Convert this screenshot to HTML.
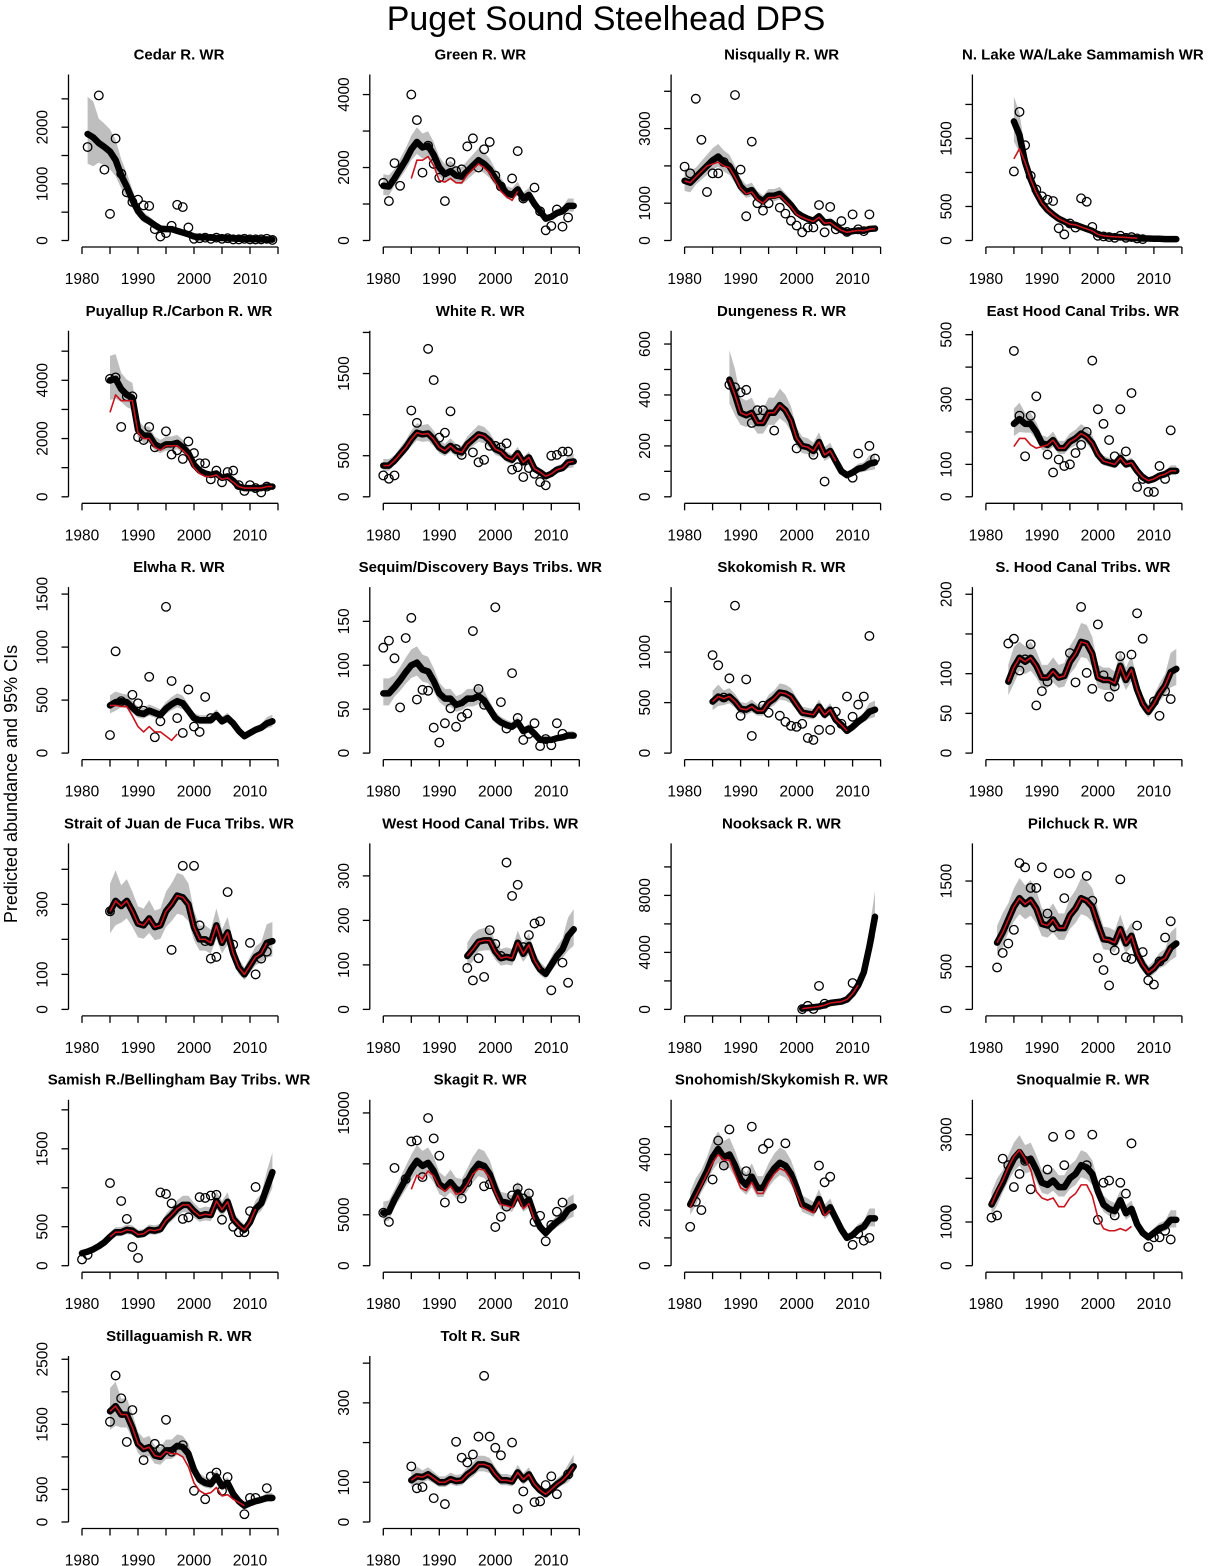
<!DOCTYPE html>
<html><head><meta charset="utf-8"><style>
body{margin:0;background:#fff}
svg{display:block;font-family:"Liberation Sans",Arial,sans-serif}
</style></head><body>
<svg id="chart" width="1212" height="1566" viewBox="0 0 1212 1566" xmlns="http://www.w3.org/2000/svg">
<text x="606" y="30" text-anchor="middle" font-size="34">Puget Sound Steelhead DPS</text>
<text transform="translate(17,784) rotate(-90)" text-anchor="middle" font-size="18">Predicted abundance and 95% CIs</text>
</svg>
<script>
const titles=["Cedar R. WR","Green R. WR","Nisqually R. WR","N. Lake WA/Lake Sammamish WR","Puyallup R./Carbon R. WR","White R. WR","Dungeness R. WR","East Hood Canal Tribs. WR","Elwha R. WR","Sequim/Discovery Bays Tribs. WR","Skokomish R. WR","S. Hood Canal Tribs. WR","Strait of Juan de Fuca Tribs. WR","West Hood Canal Tribs. WR","Nooksack R. WR","Pilchuck R. WR","Samish R./Bellingham Bay Tribs. WR","Skagit R. WR","Snohomish/Skykomish R. WR","Snoqualmie R. WR","Stillaguamish R. WR","Tolt R. SuR"];
const xTicks=[1980,1985,1990,1995,2000,2005,2010,2015];
const xTickLabels=[1980,1990,2000,2010];
const startYears=[1981,1980,1980,1985,1985,1980,1988,1985,1985,1980,1985,1984,1985,1995,2001,1982,1980,1980,1981,1981,1985,1985];
const tickSteps=[500,1000,1000,500,1000,500,100,100,500,50,500,50,100,100,2000,500,500,5000,1000,1000,500,100];
const tickLabels=[[0,1000,2000],[0,2000,4000],[0,1000,3000],[0,500,1500],[0,2000,4000],[0,500,1500],[0,200,400,600],[0,100,300,500],[0,500,1000,1500],[0,50,100,150],[0,500,1000],[0,50,100,200],[0,100,300],[0,100,200,300],[0,4000,8000],[0,500,1500],[0,500,1500],[0,5000,15000],[0,2000,4000],[0,1000,3000],[0,500,1500,2500],[0,100,300]];
const yMaxima=[2930,4550,4450,2440,5700,2020,652,512,1566,189,1644,209,474,373,11650,1940,2130,16300,5970,3800,2550,418];
const ciWidth=[0.25,0.15,0.15,0.15,0.15,0.15,0.18,0.15,0.15,0.18,0.15,0.17,0.2,0.18,0.2,0.18,0.15,0.15,0.15,0.15,0.15,0.15];
const means=[
[1880,1820,1720,1650,1570,1420,1150,950,720,520,400,340,270,210,200,200,170,140,110,70,60,55,50,45,45,40,35,30,30,25,25,20,20,15],
[1500,1480,1700,1950,2200,2500,2700,2550,2600,2350,2000,1820,1900,1780,1750,1900,2050,2200,2100,1950,1700,1500,1300,1250,1400,1150,1250,1000,800,600,650,750,800,950,950],
[1600,1550,1700,1850,2000,2150,2250,2100,2000,1750,1450,1300,1350,1150,1050,1200,1200,1250,1100,950,750,650,580,530,650,480,500,380,280,220,250,270,260,310,320],
[1750,1550,1150,900,700,550,450,380,320,280,240,230,200,170,140,90,70,60,55,50,45,40,35,30,30,25,25,20,20,20],
[4000,4050,3700,3500,3400,2300,2100,2100,1800,1700,1800,1800,1850,1700,1500,1100,900,800,750,800,650,700,550,350,300,300,300,300,350,350],
[380,380,440,520,600,700,780,760,770,700,600,560,620,560,540,640,700,760,740,680,580,550,480,450,530,420,480,340,300,250,280,330,350,420,430],
[460,400,330,320,330,290,290,330,330,360,340,300,230,200,195,180,215,165,180,140,100,85,95,110,115,130,135],
[225,240,225,225,200,165,160,175,150,150,170,180,195,185,165,130,110,105,100,120,100,105,80,60,50,55,65,70,80,80],
[450,480,490,480,430,380,370,400,380,360,420,460,490,470,400,330,310,310,310,360,300,330,280,210,160,190,220,240,280,300],
[68,68,75,83,92,100,103,95,93,82,68,62,62,55,57,62,62,65,60,50,40,35,32,30,35,25,28,22,15,15,15,17,18,20,20],
[510,560,540,560,510,440,430,460,420,420,500,540,600,590,560,480,400,390,380,460,380,430,330,280,220,260,310,350,410,430],
[90,108,120,115,120,110,95,95,103,95,97,115,125,140,138,125,95,92,92,88,110,92,105,80,62,52,62,75,85,102,106],
[280,310,295,310,280,245,240,260,235,240,280,300,325,320,300,235,200,200,190,240,190,220,160,120,100,125,150,160,190,195],
[120,135,152,155,155,130,115,118,115,150,125,145,110,90,80,100,120,135,165,180],
[50,100,150,200,300,450,500,550,700,1100,1700,2600,4400,6500],
[780,900,1050,1200,1300,1230,1280,1180,1000,980,1050,950,950,1100,1180,1300,1270,1200,1000,820,810,780,940,770,860,650,520,430,480,560,600,720,770],
[160,180,210,250,300,370,430,430,460,450,400,410,460,450,470,580,650,730,780,780,700,640,660,650,830,720,820,600,520,460,560,730,800,1000,1200],
[5200,5300,6500,7500,8500,9500,10300,9800,10100,9300,8000,7600,8200,7500,7400,8300,9300,10000,9800,9000,7500,6300,6200,6000,7200,6000,6500,4900,3800,3200,3800,4300,4700,5500,5800],
[2200,2600,3000,3400,3900,4200,3900,4000,3600,3100,2900,3200,2800,2800,3200,3500,3700,3600,3300,2800,2200,2100,2000,2400,1900,2100,1700,1300,1000,1100,1300,1400,1700,1700],
[1400,1650,1900,2200,2450,2600,2400,2450,2200,1900,1850,1950,1800,1800,2000,2100,2300,2250,2100,1700,1400,1300,1250,1500,1200,1300,950,750,650,750,850,900,1050,1050],
[1700,1780,1650,1650,1450,1200,1120,1150,1020,1000,1100,1100,1170,1150,1050,800,650,600,580,700,550,600,430,320,250,290,320,340,370,370],
[105,115,113,120,110,100,100,108,103,105,120,130,145,145,140,120,105,105,102,125,107,120,95,80,70,82,95,105,120,140]
];
const redStart=[null,1985,1980,1985,1985,1980,1988,1985,1985,null,1985,1984,1985,1995,2001,1982,1985,1985,1981,1981,1985,1985];
const redValues=[
null,
[1700,2200,2200,2300,2050,1650,1600,1700,1580,1580,1800,1950,2100,2000,1850,1600,1350,1200,1100,1350],
[1600,1550,1700,1850,2000,2050,2100,2000,1950,1700,1400,1250,1300,1100,1000,1150,1150,1200,1050,900,700,620,560,510,620,460,480,370,270,220,250,270,260,300,320],
[1200,1350,1150,900,700,550,450,380,320,280,240,230,200,170,140,90,70,60,55,50,45,40,35],
[2900,3500,3300,3300,3300,2200,2000,2000,1700,1600,1750,1750,1750,1600,1400,1000,800,700,700,750,600,650,500,350,300,300,300,300,350,350],
[380,380,440,520,600,700,780,760,770,700,600,560,620,560,540,640,700,760,740,680,580,550,480,450,530,420,480,340,300,250,280,330,350,420,430],
[460,400,330,320,330,290,290,330,330,360,340,300,230,200,195,180,215,165,180,140],
[155,180,180,160,150,155,160,175,150,150,170,180,195,185,165,130,110,105,100,120,100,105,80,60,50,55,65,70,80,80],
[450,450,440,440,350,250,200,250,200,200,160,120,180],
null,
[510,560,540,560,510,440,430,460,420,420,500,540,600,590,560,480,400,390,380,460,380,430,330,280,220],
[90,108,120,115,120,110,95,95,103,95,97,115,125,140,138,125,95,92,92,88,110,92,105,80,62,52,62,75,85,102],
[280,310,295,310,280,245,240,260,235,240,280,300,325,320,300,235,200,200,190,240,190,220,160,120,100,125,150,160,190],
[120,135,152,155,155,130,115,118,115,150,125,145,110,90],
[50,100,150,200,300,450,500,550,700,1100,1700],
[780,900,1050,1200,1300,1230,1280,1180,1000,980,1050,950,950,1100,1180,1300,1270,1200,1000,820,810,780,940,770,860,650,520,430,480,560,600,720],
[370,430,430,460,450,400,410,460,450,470,580,650,730,780,780,700,640,660,650,830,720,820,600,520,460,560,730],
[7500,8900,8500,9300,8800,7800,7300,7800,7000,7200,8000,9000,9500,9400,8600,7200,6000,5900,5700,6900,5600,6100,4500],
[2100,2500,2900,3300,3700,4000,3800,3800,3300,2800,2700,3000,2600,2600,3000,3300,3500,3400,3100,2600,2100,2000,1900,2300,1800,2000],
[1400,1700,1950,2250,2500,2650,2450,2200,1700,1550,1500,1550,1350,1350,1550,1650,1850,1850,1600,1100,850,800,800,850,800,900],
[1700,1780,1650,1650,1450,1200,1120,1150,1020,1000,1080,1050,1050,1000,850,600,480,430,450,530,400,420,350,300,250],
[105,115,113,120,110,100,100,108,103,105,120,130,145,145,140,120,105,105,102,125,107,120,95,80,70,82,95,105,120,140]
];
const obs=[
[[1981,1650],[1983,2560],[1984,1250],[1985,470],[1986,1800],[1987,1180],[1988,850],[1989,680],[1990,720],[1991,620],[1992,610],[1993,200],[1994,70],[1995,130],[1996,260],[1997,630],[1998,590],[1999,230],[2000,30],[2001,40],[2002,50],[2003,30],[2004,50],[2005,30],[2006,40],[2007,20],[2008,20],[2009,30],[2010,20],[2011,20],[2012,20],[2013,30],[2014,10]],
[[1980,1580],[1981,1080],[1982,2120],[1983,1500],[1985,4000],[1986,3300],[1987,1860],[1988,2600],[1989,2100],[1990,1720],[1991,1080],[1992,2150],[1993,1900],[1994,1950],[1995,2580],[1996,2800],[1997,2000],[1998,2500],[1999,2700],[2000,1780],[2001,1480],[2003,1700],[2004,2450],[2005,1150],[2007,1450],[2008,800],[2009,280],[2010,400],[2011,850],[2012,380],[2013,630]],
[[1980,1980],[1981,1800],[1982,3800],[1983,2700],[1984,1300],[1985,1800],[1986,1800],[1987,2100],[1989,3900],[1990,1900],[1991,650],[1992,2650],[1993,1000],[1994,800],[1995,1000],[1997,880],[1998,720],[1999,530],[2000,400],[2001,220],[2002,350],[2003,350],[2004,950],[2005,220],[2006,900],[2007,300],[2008,520],[2009,230],[2010,700],[2011,300],[2012,250],[2013,700]],
[[1985,1015],[1986,1890],[1987,1400],[1988,950],[1989,750],[1990,650],[1991,600],[1992,580],[1993,180],[1994,90],[1995,250],[1996,190],[1997,620],[1998,570],[1999,200],[2000,70],[2001,60],[2002,50],[2003,40],[2004,70],[2005,40],[2006,50],[2007,30],[2008,20]],
[[1985,4050],[1986,4100],[1987,2400],[1988,3450],[1989,3450],[1990,2050],[1991,1950],[1992,2400],[1993,1700],[1995,2250],[1996,1450],[1997,1600],[1998,1300],[1999,1900],[2000,1500],[2001,1150],[2002,1150],[2003,600],[2004,900],[2005,500],[2006,850],[2007,900],[2008,400],[2009,200],[2010,400],[2011,300],[2012,150],[2013,350]],
[[1980,260],[1981,220],[1982,260],[1985,1050],[1986,900],[1988,1800],[1989,1420],[1990,720],[1991,780],[1992,1040],[1993,580],[1994,510],[1996,540],[1997,420],[1998,450],[1999,620],[2000,620],[2001,600],[2002,650],[2003,330],[2004,360],[2005,240],[2006,350],[2007,280],[2008,180],[2009,140],[2010,500],[2011,510],[2012,550],[2013,550]],
[[1988,440],[1989,430],[1990,410],[1991,420],[1992,290],[1993,340],[1994,340],[1996,260],[2000,190],[2003,165],[2005,60],[2010,75],[2011,170],[2013,200],[2014,150]],
[[1985,450],[1986,250],[1987,125],[1988,250],[1989,310],[1991,130],[1992,75],[1993,115],[1994,95],[1995,100],[1996,135],[1997,160],[1998,200],[1999,420],[2000,270],[2001,225],[2002,175],[2003,125],[2004,270],[2005,140],[2006,320],[2007,30],[2008,55],[2009,15],[2010,15],[2011,95],[2012,55],[2013,205]],
[[1985,170],[1986,960],[1987,490],[1989,550],[1990,470],[1991,400],[1992,720],[1993,150],[1994,300],[1995,1380],[1996,680],[1997,330],[1998,190],[1999,600],[2000,250],[2001,200],[2002,530],[2003,330]],
[[1980,120],[1981,128],[1982,108],[1983,52],[1984,131],[1985,154],[1986,61],[1987,72],[1988,71],[1989,29],[1990,12],[1991,34],[1992,51],[1993,30],[1994,41],[1995,45],[1996,139],[1997,73],[1998,55],[2000,166],[2001,58],[2002,28],[2003,91],[2004,40],[2005,15],[2006,22],[2007,34],[2008,8],[2009,16],[2010,9],[2011,34],[2012,22]],
[[1985,970],[1986,870],[1987,550],[1988,740],[1989,1460],[1990,370],[1991,730],[1992,170],[1994,470],[1995,400],[1997,370],[1998,310],[1999,270],[2000,260],[2001,290],[2002,150],[2003,130],[2004,230],[2006,230],[2007,410],[2008,290],[2009,560],[2010,360],[2011,480],[2012,560],[2013,1160]],
[[1984,138],[1985,144],[1986,104],[1987,118],[1988,137],[1989,60],[1990,78],[1991,90],[1995,126],[1996,89],[1997,184],[1998,101],[1999,81],[2000,162],[2001,98],[2002,71],[2003,84],[2004,122],[2006,124],[2007,176],[2008,144],[2010,65],[2011,47],[2012,78],[2013,68]],
[[1985,280],[1996,170],[1998,410],[2000,410],[2001,240],[2002,195],[2003,145],[2004,150],[2006,335],[2007,185],[2010,190],[2011,100],[2012,145],[2013,165]],
[[1995,93],[1996,65],[1997,115],[1998,73],[1999,178],[2000,147],[2001,120],[2002,330],[2003,255],[2004,280],[2005,140],[2006,167],[2007,193],[2008,198],[2010,43],[2012,105],[2013,60]],
[[2001,20],[2002,250],[2003,30],[2004,1650],[2005,400],[2010,1850]],
[[1982,490],[1983,660],[1984,770],[1985,930],[1986,1710],[1987,1660],[1988,1420],[1989,1420],[1990,1660],[1991,1120],[1992,960],[1993,1590],[1994,1300],[1995,1590],[1998,1560],[1999,1270],[2000,600],[2001,460],[2002,280],[2003,690],[2004,1520],[2005,610],[2006,590],[2007,980],[2008,670],[2009,340],[2010,290],[2011,560],[2012,840],[2013,1030]],
[[1980,80],[1981,140],[1985,1060],[1987,830],[1988,600],[1989,240],[1990,100],[1994,940],[1995,920],[1996,800],[1998,600],[1999,620],[2001,880],[2002,870],[2003,900],[2004,910],[2005,590],[2007,500],[2008,430],[2009,430],[2010,700],[2011,1010]],
[[1980,5200],[1981,4300],[1982,9600],[1984,8500],[1985,12200],[1986,12300],[1987,8700],[1988,14500],[1989,12500],[1990,10800],[1991,6200],[1994,6600],[1995,8200],[1998,7800],[1999,8000],[2000,3800],[2001,4800],[2002,5800],[2003,6900],[2004,7600],[2005,6600],[2006,7100],[2007,4300],[2008,4900],[2009,2400],[2010,4000],[2011,5300],[2012,6200]],
[[1981,1400],[1982,2300],[1983,2000],[1985,3100],[1986,4500],[1987,3600],[1988,4900],[1991,3400],[1992,5000],[1994,4200],[1995,4400],[1998,4400],[2004,3600],[2005,3000],[2006,3200],[2010,750],[2011,1150],[2012,900],[2013,1000]],
[[1981,1100],[1982,1150],[1983,2450],[1984,2300],[1985,1800],[1986,2100],[1987,2400],[1988,1750],[1991,2200],[1992,2950],[1994,2300],[1995,3000],[1998,2300],[1999,3000],[2000,1050],[2001,1900],[2002,1950],[2003,1150],[2004,1900],[2005,1650],[2006,2800],[2009,430],[2010,650],[2011,650],[2012,800],[2013,600]],
[[1985,1540],[1986,2250],[1987,1900],[1988,1230],[1989,1720],[1991,950],[1993,1200],[1994,1120],[1995,1570],[1996,1080],[1998,1180],[2000,480],[2002,350],[2003,700],[2004,760],[2005,480],[2006,690],[2009,120],[2010,370],[2011,370],[2013,520]],
[[1985,140],[1986,85],[1987,88],[1989,60],[1991,45],[1993,202],[1994,162],[1995,150],[1996,170],[1997,215],[1998,368],[1999,215],[2000,187],[2001,168],[2003,200],[2004,33],[2005,77],[2007,50],[2008,52],[2009,93],[2010,115],[2011,70],[2013,120]]
];
const NS="http://www.w3.org/2000/svg";
const svg=document.getElementById('chart');
function mk(tag,attrs,parent){const e=document.createElementNS(NS,tag);for(const k in attrs)e.setAttribute(k,attrs[k]);parent.appendChild(e);return e;}
titles.forEach((title,i)=>{
  const c=i%4,r=Math.floor(i/4);
  const x0=82+301.3*c, zero=240.5+256.3*r, topPx=zero-166;
  const k=166/yMaxima[i];
  const X=yr=>x0+(yr-1980)*5.6;
  const Y=v=>zero-v*k;
  const g=mk('g',{},svg);
  
  
  const t=mk('text',{x:x0+97,y:zero-181,'text-anchor':'middle','font-size':'15','font-weight':'bold'},g);
  t.textContent=title;
  
  
  const m=means[i],s=startYears[i],w=ciWidth[i];
  let up=[],lo=[];
  m.forEach((v,j)=>{const f=(j<2||j>m.length-3)?1.4:1;up.push([X(s+j),Y(v*(1+w*f))]);lo.push([X(s+j),Y(v*(1-w*0.8*f))]);});
  const band=mk('polygon',{points:up.concat(lo.reverse()).map(p=>p.join(',')).join(' '),fill:'#bebebe',stroke:'none'},g);
  
  
  obs[i].forEach(p=>{
    const ci=mk('circle',{cx:X(p[0]),cy:Y(p[1]),r:4.3,fill:'none',stroke:'#000','stroke-width':1.3},g);
    
    
  });
  const ml=mk('polyline',{points:m.map((v,j)=>X(s+j)+','+Y(v)).join(' '),fill:'none',stroke:'#000','stroke-width':6.5,'stroke-linejoin':'round','stroke-linecap':'round'},g);
  
  
  if(redValues[i]){
    const rs=redStart[i];
    const rl=mk('polyline',{points:redValues[i].map((v,j)=>X(rs+j)+','+Y(v)).join(' '),fill:'none',stroke:'#c8141e','stroke-width':1.6,'stroke-linejoin':'round'},g);
    
    
  }
  const ax=x0-13.5;
  const ya=mk('line',{x1:ax,y1:zero,x2:ax,y2:topPx,stroke:'#000','stroke-width':1.3},g);
  
  
  for(let v=0;v<=yMaxima[i];v+=tickSteps[i]){
    const tk=mk('line',{x1:ax-7,y1:Y(v),x2:ax,y2:Y(v),stroke:'#000','stroke-width':1.3},g);
    
    
  }
  tickLabels[i].forEach(v=>{
    const tl=mk('text',{transform:`translate(${ax-21},${Y(v)}) rotate(-90)`,'text-anchor':'middle','font-size':'15.5'},g);
    tl.textContent=v;
    
    
  });
  const xy=zero+6.5;
  const xa=mk('line',{x1:X(1980),y1:xy,x2:X(2015),y2:xy,stroke:'#000','stroke-width':1.3},g);
  
  
  xTicks.forEach(yr=>{
    const tk=mk('line',{x1:X(yr),y1:xy,x2:X(yr),y2:xy+7,stroke:'#000','stroke-width':1.3},g);
    
    
  });
  xTickLabels.forEach(yr=>{
    const tl=mk('text',{x:X(yr),y:xy+37,'text-anchor':'middle','font-size':'15.5'},g);
    tl.textContent=yr;
    
    
  });
});
</script>
</body></html>
